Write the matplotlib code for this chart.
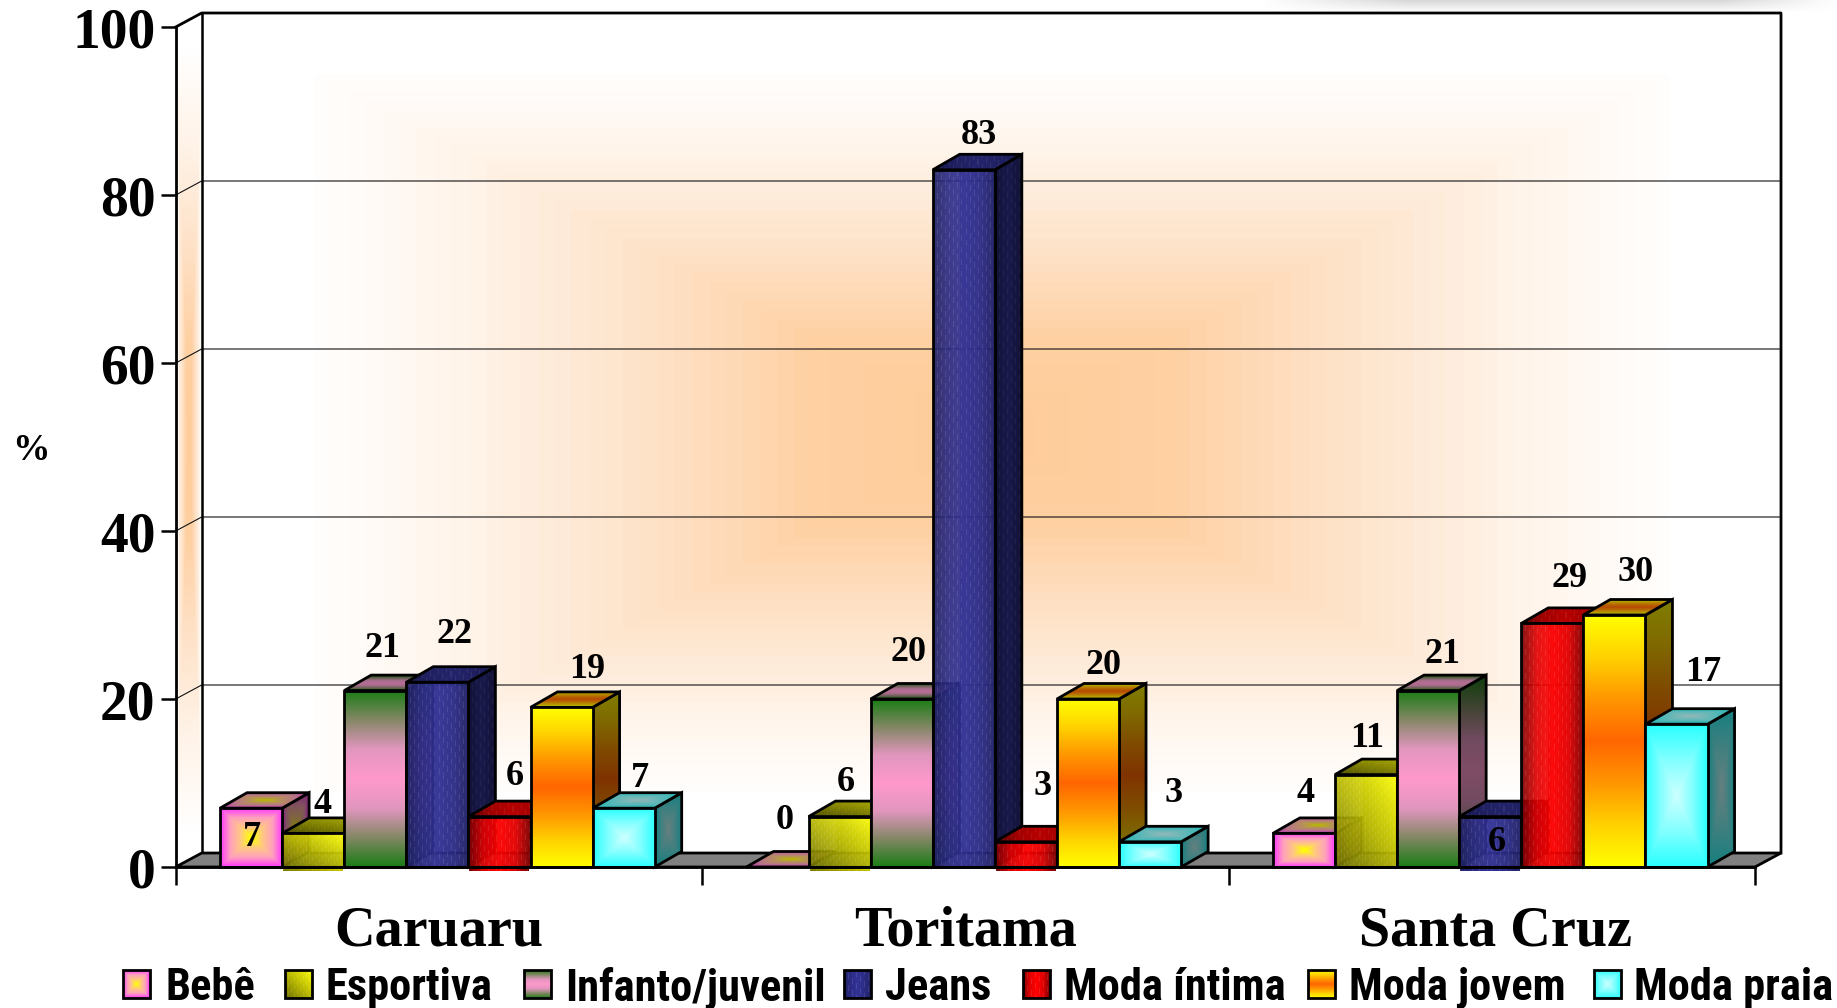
import numpy as np
import matplotlib
matplotlib.use("Agg")
import matplotlib.pyplot as plt
from matplotlib import font_manager
from matplotlib.patches import Polygon

# Data
cities = ["Caruaru", "Toritama", "Santa Cruz"]
categories = ["Bebê", "Esportiva", "Infanto/juvenil", "Jeans", "Moda íntima", "Moda jovem", "Moda praia"]
caruaru = [7, 4, 21, 22, 6, 19, 7]
toritama = [0, 6, 20, 83, 3, 20, 3]
santa_cruz = [4, 11, 21, 6, 29, 30, 17]
yticks = [0, 20, 40, 60, 80, 100]

# label offsets from the bar's top centre, in reference pixels of the shrunk view
label_dx = [[1, 8, 6, 15, 13, 22, 14], [6, 5, 6, 13, 14, 13, 20], [1, 1, 12, 6, 15, 18, 23]]
label_dy = [[-25, 25, 36, 41, 34, 32, 25], [40, 29, 40, 29, 47, 29, 41], [34, 31, 31, -22, 38, 36, 44]]

W, H = 1837, 1008
X0, X1 = 175.7, 1755.0
Y0, Y1 = 867.0, 27.0
GROUP_PX = (X1 - X0) / 3
UNIT_PX = (Y0 - Y1) / 100
BAR_W = 62.1 / GROUP_PX
BAR_START = 44.3 / GROUP_PX
DX_BAR, DY_BAR = 27 / GROUP_PX, 15.5 / UNIT_PX
DX_WALL, DY_WALL = 26 / GROUP_PX, 14 / UNIT_PX

names = {f.name for f in font_manager.fontManager.ttflist}
if "Liberation Sans Narrow" in names:
    narrow, legend_size = "Liberation Sans Narrow", 32
elif "Roboto Condensed" in names:
    narrow, legend_size = "Roboto Condensed", 32
else:
    narrow, legend_size = "Roboto", 27.4
serif = "Liberation Serif"


def ramp(t, stops):
    ts = np.linspace(0, 1, len(stops))
    stops = np.array(stops, dtype=float)
    return np.stack([np.interp(t, ts, stops[:, k]) for k in range(3)], axis=-1) / 255


def texture(img, amount, step=4, dash=6):
    # little staggered dashes, like the original pattern fill
    h, w = img.shape[:2]
    r, c = np.mgrid[0:h, 0:w]
    on = (c % step == 0) & ((r + 5 * (c // step)) % (dash * 2) < dash)
    out = img.copy()
    out[on] = out[on] * (1 - amount) + amount
    return out


def face(j, w, h):
    h, w = max(int(h), 2), max(int(w), 2)
    v, u = np.mgrid[0:h, 0:w]
    u = (u + 0.5) / w
    v = (v + 0.5) / h
    box = np.maximum(np.abs(2 * u - 1), np.abs(2 * v - 1))
    mid_v = np.abs(2 * v - 1)
    mid_u = np.abs(2 * u - 1)
    if j == 0:
        return ramp(box, [(255, 255, 0), (255, 200, 130), (255, 160, 190), (255, 51, 255)])
    if j == 1:
        return texture(ramp((u + v) / 2, [(110, 110, 0), (185, 185, 0), (255, 255, 10)]), 0.1, 3, 4)
    if j == 2:
        return ramp(mid_v, [(255, 153, 204), (225, 150, 190), (130, 135, 100), (25, 125, 20)])
    if j == 3:
        return texture(ramp(mid_u, [(50, 50, 150), (44, 44, 135), (32, 32, 100)]), 0.1)
    if j == 4:
        return texture(ramp(mid_u, [(255, 0, 0), (225, 0, 0), (120, 0, 0)]), 0.1)
    if j == 5:
        return ramp(mid_v, [(255, 102, 0), (255, 150, 0), (255, 210, 0), (255, 255, 0)])
    return ramp(box, [(204, 255, 255), (130, 255, 255), (40, 255, 255)])


def paint(ax, img, verts, z, alpha=None):
    xs = [p[0] for p in verts]
    ys = [p[1] for p in verts]
    ext = (min(xs), max(xs), min(ys), max(ys))
    im = ax.imshow(img, extent=ext, origin="lower", aspect="auto", zorder=z,
                   interpolation="nearest", alpha=alpha)
    im.set_clip_box(ax.figure.bbox)
    im.set_clip_path(Polygon(verts, closed=True, transform=ax.transData))
    return im


def outline(ax, verts, z, lw=2.0):
    ax.add_patch(Polygon(verts, closed=True, fill=False, ec="black", lw=lw, zorder=z, clip_on=False))


def px_x(p):
    return (p - X0) / GROUP_PX


def px_y(p):
    return (Y0 - p) / UNIT_PX


fig = plt.figure(figsize=(W / 100, H / 100), dpi=100, facecolor="white")
ax = fig.add_axes([X0 / W, 1 - Y0 / H, (X1 - X0) / W, (Y0 - Y1) / H])
ax.set_facecolor("none")

# back wall: box gradient, white at the border and orange in the middle
wall_stops = [(254, 204, 153), (254, 208, 162), (254, 226, 200), (255, 243, 232), (255, 255, 255)]
v, u = np.mgrid[-1:1:400j, -1:1:800j]
t = np.clip(np.maximum(np.abs(u), np.abs(v)) / 0.87, 0, 1)
t = np.round(t * 40) / 40
wall_verts = [(DX_WALL, DY_WALL), (3 + DX_WALL, DY_WALL), (3 + DX_WALL, 100 + DY_WALL), (DX_WALL, 100 + DY_WALL)]
paint(ax, ramp(t, wall_stops), wall_verts, 1)

# left wall
v, u = np.mgrid[-1:1:300j, -1:1:30j]
t = np.clip(np.maximum(np.abs(u) * 0.87, np.abs(v)) / 0.92, 0, 1)
paint(ax, ramp(t, wall_stops),
      [(0, 0), (DX_WALL, DY_WALL), (DX_WALL, 100 + DY_WALL), (0, 100)], 1)

# grid lines on both walls
for y in yticks[1:-1]:
    ax.plot([0, DX_WALL, 3 + DX_WALL], [y, y + DY_WALL, y + DY_WALL], color="#111111", lw=0.8,
            zorder=2, clip_on=False)
ax.plot([0, DX_WALL, 3 + DX_WALL, 3 + DX_WALL], [100, 100 + DY_WALL, 100 + DY_WALL, DY_WALL],
        color="black", lw=2.0, zorder=2, clip_on=False)
ax.plot([DX_WALL, DX_WALL], [DY_WALL, 100 + DY_WALL], color="black", lw=1.8, zorder=2, clip_on=False)

# floor
floor = [(0, 0), (3, 0), (3 + DX_WALL, DY_WALL), (DX_WALL, DY_WALL)]
ax.add_patch(Polygon(floor, closed=True, fc="#808080", ec="black", lw=2.0, zorder=3, clip_on=False))

# bars
textured = {1, 3, 4}
z = 4
for g, values in enumerate([caruaru, toritama, santa_cruz]):
    for j, val in enumerate(values):
        x0 = g + BAR_START + j * BAR_W
        x1 = x0 + BAR_W
        h_px = val * UNIT_PX
        side = [(x1, 0), (x1 + DX_BAR, DY_BAR), (x1 + DX_BAR, val + DY_BAR), (x1, val)]
        top = [(x0, val), (x1, val), (x1 + DX_BAR, val + DY_BAR), (x0 + DX_BAR, val + DY_BAR)]
        front = [(x0, 0), (x1, 0), (x1, val), (x0, val)]
        if val > 0:
            paint(ax, face(j, 27, h_px + 16) * 0.5, side, z)
            outline(ax, side, z + 0.5)
        paint(ax, face(j, 89, 16) * 0.72, top, z + 0.6)
        outline(ax, top, z + 0.7)
        if val > 0:
            if j in textured:
                # these fills are see-through in the original
                if val <= 6:
                    y_low = -3.5 / UNIT_PX
                    strip = [(x0 + 0.002, y_low), (x1 - 0.002, y_low), (x1 - 0.002, 0), (x0 + 0.002, 0)]
                    paint(ax, face(j, 62, 4), strip, z + 0.1)
                back = [(x0 + DX_BAR, DY_BAR), (x1, DY_BAR), (x1, val), (x0 + DX_BAR, val)]
                if val > DY_BAR:
                    paint(ax, face(j, 35, h_px), back, z + 0.75, alpha=0.5)
                paint(ax, face(j, 62, h_px), front, z + 0.8, alpha=0.92)
            else:
                paint(ax, face(j, 62, h_px), front, z + 0.8)
            outline(ax, front, z + 0.9)
        z += 1

# value labels
for g, values in enumerate([caruaru, toritama, santa_cruz]):
    for j, val in enumerate(values):
        xc = g + BAR_START + (j + 0.5) * BAR_W
        ax.annotate(str(val), xy=(xc, val),
                    xytext=(label_dx[g][j] * 0.8435, label_dy[g][j] * 0.8435),
                    textcoords="offset points", ha="center", va="center",
                    family=serif, weight="bold", fontsize=26, zorder=200, annotation_clip=False)

# axes
ax.set_xlim(0, 3)
ax.set_ylim(0, 100)
for s in ["top", "right"]:
    ax.spines[s].set_visible(False)
for s in ["left", "bottom"]:
    ax.spines[s].set_linewidth(2.0)
    ax.spines[s].set_zorder(150)
ax.set_yticks(yticks)
ax.set_yticklabels([str(y) for y in yticks], family=serif, weight="bold", fontsize=40)
ax.tick_params(axis="y", length=10.5, width=1.8, pad=4)
ax.set_xticks([0, 1, 2, 3])
ax.set_xticklabels([])
ax.tick_params(axis="x", which="major", length=13, width=1.8)
ax.set_xticks([0.5, 1.5, 2.508], minor=True)
ax.set_xticklabels(cities, minor=True, family=serif, weight="bold", fontsize=40.5)
ax.tick_params(axis="x", which="minor", length=0, pad=28)

ax.text(px_x(31), px_y(451), "%", family=serif, weight="bold", fontsize=27,
        ha="center", va="center", clip_on=False)

# legend, placed by hand like the original
legend_sw = [123, 285, 524, 844, 1023, 1308, 1594]
legend_tx = [165, 326, 565, 885, 1064, 1349, 1634]
for j, name in enumerate(categories):
    sw = legend_sw[j]
    verts = [(px_x(sw), px_y(998)), (px_x(sw + 27), px_y(998)), (px_x(sw + 27), px_y(970)), (px_x(sw), px_y(970))]
    paint(ax, face(j, 27, 28), verts, 300)
    outline(ax, verts, 301)
    ax.text(px_x(legend_tx[j]), px_y(988), name, family=narrow, weight="bold", fontsize=legend_size,
            ha="left", va="center", clip_on=False, zorder=301)

# grey shadow along the top edge, right side
sh = np.ones((12, 577, 4))
sh[..., :3] = 0.72
yy, xx = np.mgrid[0:12, 0:577]
sh[..., 3] = 0.55 * (1 - yy / 12) * np.clip(xx / 150, 0, 1) * np.clip((577 - xx) / 120, 0, 1)
fig.figimage(sh, xo=W - 577, yo=H - 12, origin="upper", zorder=400)

ax.set_xlim(0, 3)
ax.set_ylim(0, 100)
fig.savefig("out.png", dpi=100, facecolor="white")
